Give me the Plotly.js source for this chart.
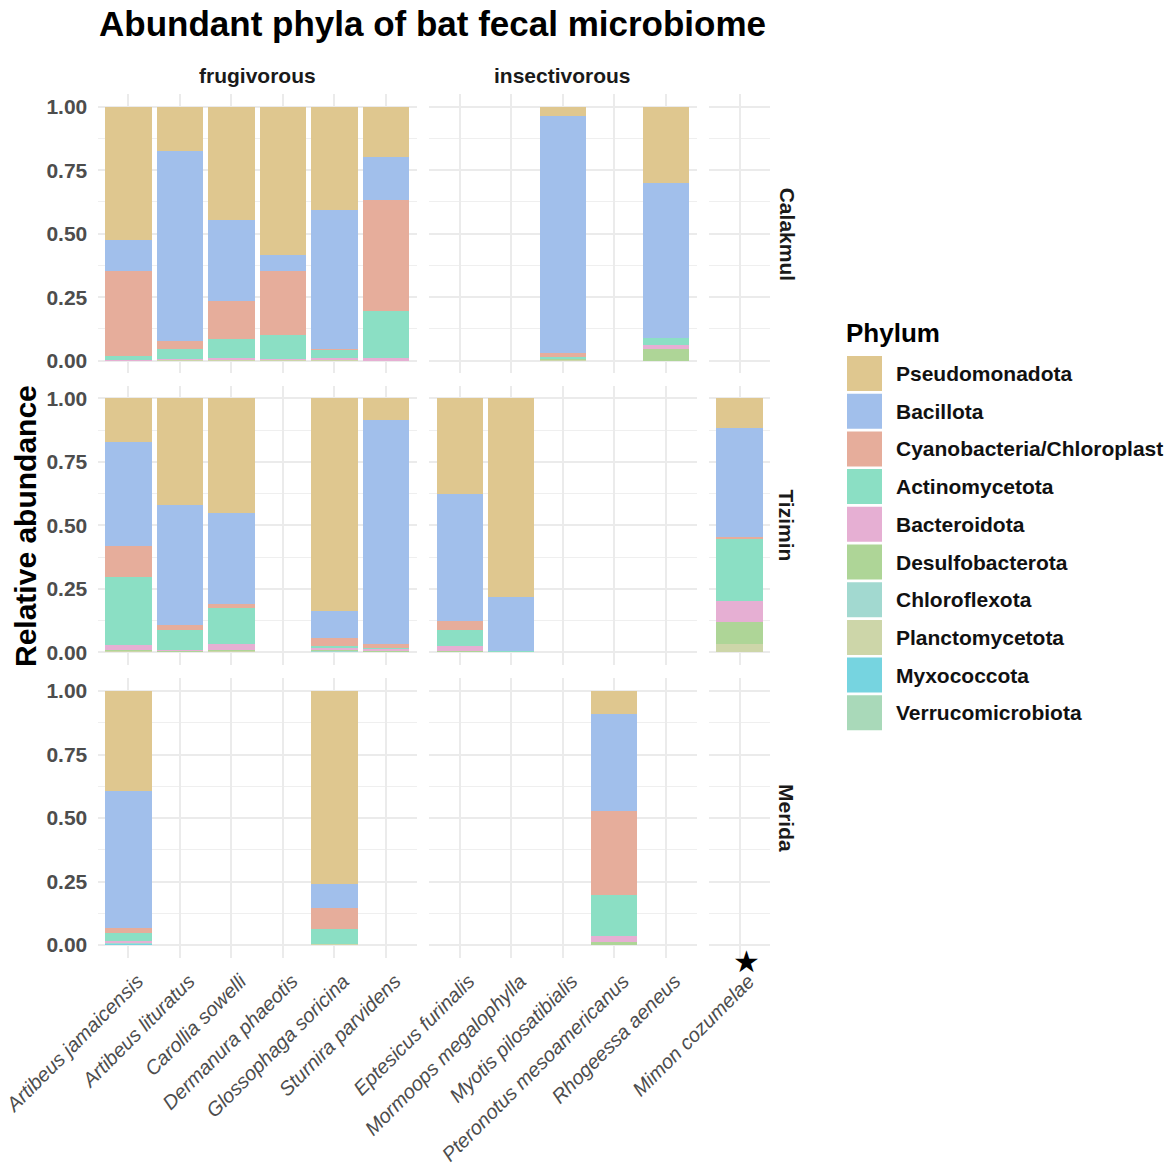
<!DOCTYPE html>
<html>
<head>
<meta charset="utf-8">
<script src="https://cdn.plot.ly/plotly-3.0.1.min.js"></script>
<style>html,body{margin:0;padding:0;background:#fff;}#chart{width:1171px;height:1169px;}</style>
</head>
<body>
<div id="chart"></div>
<script>
// ---------- DATA ----------
const species = [
  "Artibeus jamaicensis", "Artibeus lituratus", "Carollia sowelli", "Dermanura phaeotis",
  "Glossophaga soricina", "Sturnira parvidens",
  "Eptesicus furinalis", "Mormoops megalophylla", "Myotis pilosatibialis",
  "Pteronotus mesoamericanus", "Rhogeessa aeneus",
  "Mimon cozumelae"
];
const dietGroups = ["frugivorous", "insectivorous", ""];
const dietSpeciesIndex = [[0,1,2,3,4,5],[6,7,8,9,10],[11]];
const sites = ["Calakmul", "Tizimin", "Merida"];
const phyla = ["Pseudomonadota","Bacillota","Cyanobacteria/Chloroplast","Actinomycetota","Bacteroidota",
               "Desulfobacterota","Chloroflexota","Planctomycetota","Myxococcota","Verrucomicrobiota"];
const phylumColors = ["#DFC78F","#A1BFEB","#E6AD9B","#8BDFC4","#E6AFD3",
                      "#AED597","#A2D9D0","#CDD6A9","#76D4E0","#A9D9B9"];
const n = null;
// rows = phyla (order above), columns = species (order above)
const calakmul = [
  [0.526,0.175,0.446,0.585,0.407,0.197, n,n,0.037,n,0.299, n],
  [0.122,0.749,0.317,0.060,0.545,0.172, n,n,0.934,n,0.613, n],
  [0.335,0.029,0.153,0.255,0.007,0.437, n,n,0.016,n,0.000, n],
  [0.015,0.040,0.073,0.094,0.029,0.185, n,n,0.006,n,0.028, n],
  [0.002,0.003,0.007,0.002,0.008,0.009, n,n,0.002,n,0.013, n],
  [0.000,0.002,0.002,0.002,0.002,0.000, n,n,0.003,n,0.047, n],
  [0.000,0.001,0.001,0.001,0.001,0.000, n,n,0.001,n,0.000, n],
  [0.000,0.001,0.001,0.001,0.001,0.000, n,n,0.001,n,0.000, n],
  [0.000,0.000,0.000,0.000,0.000,0.000, n,n,0.000,n,0.000, n],
  [0.000,0.000,0.000,0.000,0.000,0.000, n,n,0.000,n,0.000, n]
];
const tizimin = [
  [0.173,0.419,0.450,n,0.835,0.084, 0.376,0.780,n,n,n, 0.115],
  [0.409,0.471,0.359,n,0.107,0.881, 0.501,0.213,n,n,n, 0.432],
  [0.120,0.021,0.014,n,0.032,0.017, 0.033,0.001,n,n,n, 0.006],
  [0.267,0.081,0.144,n,0.009,0.005, 0.065,0.004,n,n,n, 0.243],
  [0.021,0.004,0.023,n,0.009,0.008, 0.021,0.001,n,n,n, 0.085],
  [0.003,0.002,0.004,n,0.003,0.002, 0.002,0.001,n,n,n, 0.085],
  [0.002,0.001,0.002,n,0.002,0.001, 0.001,0.000,n,n,n, 0.000],
  [0.005,0.001,0.004,n,0.003,0.002, 0.001,0.000,n,n,n, 0.034],
  [0.000,0.000,0.000,n,0.000,0.000, 0.000,0.000,n,n,n, 0.000],
  [0.000,0.000,0.000,n,0.000,0.000, 0.000,0.000,n,n,n, 0.000]
];
const merida = [
  [0.394,n,n,n,0.759,n, n,n,n,0.091,n, n],
  [0.540,n,n,n,0.097,n, n,n,n,0.383,n, n],
  [0.020,n,n,n,0.082,n, n,n,n,0.330,n, n],
  [0.032,n,n,n,0.059,n, n,n,n,0.162,n, n],
  [0.008,n,n,n,0.000,n, n,n,n,0.022,n, n],
  [0.000,n,n,n,0.001,n, n,n,n,0.012,n, n],
  [0.004,n,n,n,0.000,n, n,n,n,0.000,n, n],
  [0.000,n,n,n,0.002,n, n,n,n,0.000,n, n],
  [0.002,n,n,n,0.000,n, n,n,n,0.000,n, n],
  [0.000,n,n,n,0.000,n, n,n,n,0.000,n, n]
];
const siteData = [calakmul, tizimin, merida];
const starSpecies = "Mimon cozumelae";
const yTicks = [0, 0.25, 0.5, 0.75, 1];

// ---------- LAYOUT GEOMETRY ----------
const W = 1171, H = 1169;
const px = v => v / W, py = v => 1 - v / H;
const colPx = [[97.5,416.8],[428.8,696.6],[708.6,770.4]];
const rowPx = [[94,373.4],[385.6,665.2],[678.3,957.7]];
const FONT = "Liberation Sans, Arial, Helvetica, sans-serif";

const traces = [];
const layout = {
  width: W, height: H,
  margin: {l:0, r:0, t:0, b:0},
  paper_bgcolor: "#fff", plot_bgcolor: "rgba(0,0,0,0)",
  barmode: "stack", bargap: 0.1,
  showlegend: false,
  font: {family: FONT},
  annotations: [], shapes: []
};

for (let r = 0; r < 3; r++) {
  for (let c = 0; c < 3; c++) {
    const k = r * 3 + c + 1;
    const xid = k === 1 ? "x" : "x" + k;
    const yid = k === 1 ? "y" : "y" + k;
    const cats = dietSpeciesIndex[c].map(i => species[i]);
    layout[k === 1 ? "xaxis" : "xaxis" + k] = {
      domain: [px(colPx[c][0]), px(colPx[c][1])],
      anchor: yid, type: "category",
      categoryorder: "array", categoryarray: cats,
      range: [-0.6, cats.length - 0.4],
      showgrid: true, gridcolor: "#EBEBEB", gridwidth: 2,
      zeroline: false, showline: false,
      showticklabels: r === 2,
      ticks: r === 2 ? "outside" : "", ticklen: 3, tickcolor: "rgba(0,0,0,0)",
      ticklabelshift: 9,
      tickangle: -45,
      tickfont: {family: FONT, size: 20, color: "#4D4D4D", style: "italic"},
      fixedrange: true
    };
    layout[k === 1 ? "yaxis" : "yaxis" + k] = {
      domain: [py(rowPx[r][1]), py(rowPx[r][0])],
      anchor: xid,
      range: [-0.05, 1.05],
      tickmode: "array", tickvals: yTicks,
      ticktext: yTicks.map(v => v.toFixed(2)),
      showgrid: true, gridcolor: "#EBEBEB", gridwidth: 2,
      minor: {tickmode: "linear", tick0: 0.125, dtick: 0.25, showgrid: true, gridcolor: "#EFEFEF", gridwidth: 1, ticks: ""},
      zeroline: false, showline: false,
      showticklabels: c === 0,
      ticks: c === 0 ? "outside" : "", ticklen: 5, tickcolor: "rgba(0,0,0,0)",
      tickfont: {family: FONT, size: 21, color: "#4D4D4D", weight: "bold"},
      fixedrange: true
    };
    // stacked bars: bottom phylum first
    for (let p = phyla.length - 1; p >= 0; p--) {
      traces.push({
        type: "bar", xaxis: xid, yaxis: yid,
        x: cats,
        y: dietSpeciesIndex[c].map(i => siteData[r][p][i]),
        name: phyla[p],
        width: 0.9,
        marker: {color: phylumColors[p], line: {width: 0}},
        showlegend: false,
        hovertemplate: "%{x}<br>" + phyla[p] + ": %{y:.3f}<extra>" + sites[r] + "</extra>"
      });
    }
  }
}

// star marker under Mimon cozumelae (bottom-right panel)
layout.annotations.push({
  xref: "x9", yref: "paper", x: dietSpeciesIndex[2].map(i => species[i]).indexOf(starSpecies),
  y: py(961), xanchor: "center", yanchor: "middle", xshift: 7,
  text: "★", showarrow: false, font: {family: "DejaVu Sans", size: 30, color: "#000"}
});
// title
layout.annotations.push({
  xref: "paper", yref: "paper", x: px(97), y: py(24), xanchor: "left", yanchor: "middle",
  text: "<b>Abundant phyla of bat fecal microbiome</b>", showarrow: false,
  font: {family: FONT, size: 35, color: "#000"}
});
// y-axis title
layout.annotations.push({
  xref: "paper", yref: "paper", x: px(25), y: py(526), xanchor: "center", yanchor: "middle",
  text: "<b>Relative abundance</b>", textangle: -90, showarrow: false,
  font: {family: FONT, size: 30, color: "#000"}
});
// column strips
for (let c = 0; c < 3; c++) {
  if (!dietGroups[c]) continue;
  layout.annotations.push({
    xref: "paper", yref: "paper", x: px((colPx[c][0] + colPx[c][1]) / 2), y: py(76),
    xanchor: "center", yanchor: "middle", text: "<b>" + dietGroups[c] + "</b>", showarrow: false,
    font: {family: FONT, size: 21, color: "#1A1A1A"}
  });
}
// row strips
for (let r = 0; r < 3; r++) {
  layout.annotations.push({
    xref: "paper", yref: "paper", x: px(787), y: py((rowPx[r][0] + rowPx[r][1]) / 2),
    xanchor: "center", yanchor: "middle", text: "<b>" + sites[r] + "</b>", textangle: 90, showarrow: false,
    font: {family: FONT, size: 21, color: "#1A1A1A"}
  });
}
// legend (drawn)
layout.annotations.push({
  xref: "paper", yref: "paper", x: px(844), y: py(333), xanchor: "left", yanchor: "middle",
  text: "<b>Phylum</b>", showarrow: false, font: {family: FONT, size: 26, color: "#000"}
});
phyla.forEach((ph, i) => {
  const top = 356 + i * 37.7;
  layout.shapes.push({
    type: "rect", xref: "paper", yref: "paper",
    x0: px(847), x1: px(882), y0: py(top + 35), y1: py(top),
    fillcolor: phylumColors[i], line: {width: 0}
  });
  layout.annotations.push({
    xref: "paper", yref: "paper", x: px(894), y: py(top + 17.5), xanchor: "left", yanchor: "middle",
    text: "<b>" + ph + "</b>", showarrow: false, font: {family: FONT, size: 21, color: "#111"}
  });
});

Plotly.newPlot("chart", traces, layout, {staticPlot: true, displayModeBar: false});
</script>
</body>
</html>
